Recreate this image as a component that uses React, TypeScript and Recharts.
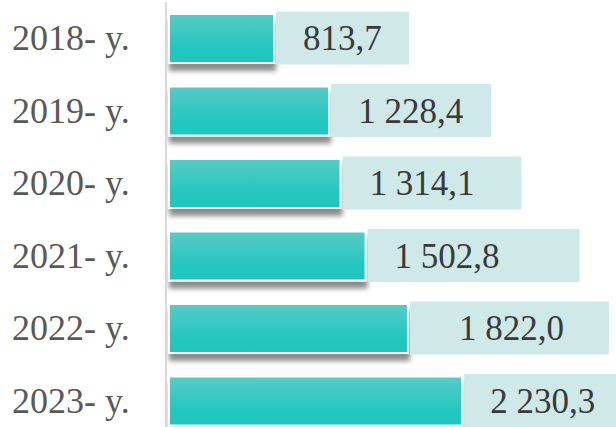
import React from "react";
import { BarChart, Bar, XAxis, YAxis, LabelList } from "recharts";

const categories = ["2018- y.", "2019- y.", "2020- y.", "2021- y.", "2022- y.", "2023- y."];
const values = [813.7, 1228.4, 1314.1, 1502.8, 1822.0, 2230.3];

// label box look (sizes only, not data)
const labelBoxWidths = [133, 160, 179, 212, 199, 160];
const labelTextPad = [27, 27, 27, 27, 49, 26];

const fmt = (v: number) => {
  const [int, dec] = v.toFixed(1).split(".");
  return int.replace(/\B(?=(\d{3})+(?!\d))/g, " ") + "," + dec;
};

const data = categories.map((c, i) => ({ year: c, value: values[i] }));

const FONT = "'Liberation Serif', 'Times New Roman', serif";

const YearTick = (props: any) => {
  const { y, payload } = props;
  return (
    <text x={12} y={y} dominantBaseline="central" fontSize={36} fontFamily={FONT} fill="#595959">
      {payload.value}
    </text>
  );
};

// small gap between the axis line and the bar
const BarShape = (props: any) => {
  const { x, y, width, height } = props;
  return (
    <rect
      x={x + 3}
      y={y}
      width={width - 3}
      height={height}
      fill="url(#barGrad)"
      stroke="#ffffff"
      strokeWidth={2}
      filter="url(#barShadow)"
    />
  );
};

const ValueBox = (props: any) => {
  const { x, y, width, height, index, value } = props;
  const bx = x + width + 2;
  const cy = y + height / 2;
  return (
    <g>
      <rect x={bx} y={cy - 27} width={labelBoxWidths[index]} height={53} fill="#cfe9e8" />
      <text
        x={bx + labelTextPad[index]}
        y={cy}
        dominantBaseline="central"
        fontSize={35}
        fontFamily={FONT}
        fill="#3a3a3a"
      >
        {fmt(value)}
      </text>
    </g>
  );
};

export default function App() {
  return (
    <div style={{ position: "absolute", left: 0, top: 0, width: 616, height: 427, overflow: "hidden", background: "#fff" }}>
      <BarChart
        width={616}
        height={437}
        data={data}
        layout="vertical"
        margin={{ top: 2, right: 118, bottom: 0, left: 0 }}
        barCategoryGap={0}
      >
        <defs>
          <linearGradient id="barGrad" x1="0" y1="0" x2="0" y2="1">
            <stop offset="0%" stopColor="#58cbc6" />
            <stop offset="70%" stopColor="#22c7c0" />
            <stop offset="100%" stopColor="#1fc6bf" />
          </linearGradient>
          <filter id="barShadow" x="-10%" y="-20%" width="120%" height="160%">
            <feDropShadow dx={1} dy={7} stdDeviation={2.5} floodColor="#000" floodOpacity={0.45} />
          </filter>
        </defs>
        <XAxis type="number" domain={[0, 2500]} hide />
        <YAxis
          type="category"
          dataKey="year"
          width={166}
          tickLine={false}
          axisLine={{ stroke: "#d9d9d9", strokeWidth: 2 }}
          tick={<YearTick />}
          interval={0}
        />
        <Bar dataKey="value" barSize={49} shape={<BarShape />} isAnimationActive={false}>
          <LabelList dataKey="value" content={<ValueBox />} />
        </Bar>
      </BarChart>
    </div>
  );
}
